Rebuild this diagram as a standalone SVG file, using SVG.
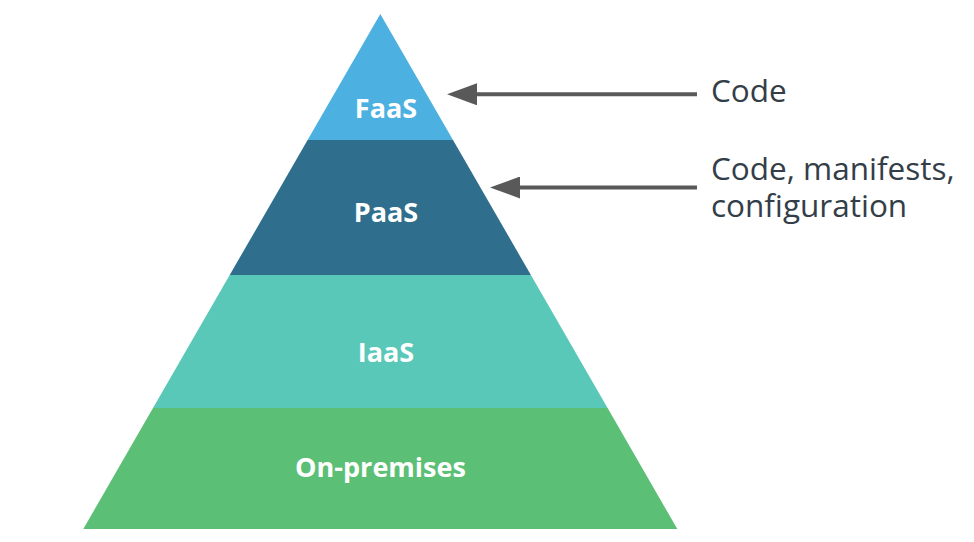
<svg xmlns="http://www.w3.org/2000/svg" width="974" height="542" viewBox="0 0 974 542">
<style>
.lbl{font-family:"Open Sans","Liberation Sans",sans-serif;font-weight:bold;font-size:27px;fill:#ffffff;text-anchor:middle}
.note{font-family:"Open Sans","Liberation Sans",sans-serif;font-size:31.5px;fill:#333e48}
.arr{stroke:#595959;stroke-width:4;fill:none}
</style>
<defs>
<marker id="ah" viewBox="0 0 30 22" refX="0" refY="11" markerWidth="30" markerHeight="22" markerUnits="userSpaceOnUse" orient="auto">
<path d="M0,0 L30,11 L0,22 Z" fill="#595959"/>
</marker>
</defs>
<rect width="974" height="542" fill="#ffffff"/>
<g id="faas">
<polygon points="380.3,14 453,140 307.6,140" fill="#4cb0e0"/>
<text class="lbl" x="386" y="118">FaaS</text>
</g>
<g id="paas">
<polygon points="307.6,140 453,140 530.9,275 229.7,275" fill="#2f6f8d"/>
<text class="lbl" x="386" y="222">PaaS</text>
</g>
<g id="iaas">
<polygon points="229.7,275 530.9,275 607.6,408 153,408" fill="#5ac8b8"/>
<text class="lbl" x="386" y="362">IaaS</text>
</g>
<g id="onprem">
<polygon points="153,408 607.6,408 677.3,529 83.3,529" fill="#5cbf76"/>
<text class="lbl" x="380.5" y="477">On-premises</text>
</g>
<g id="connectors">
<line class="arr" x1="697" y1="94.3" x2="477" y2="94.3" marker-end="url(#ah)"/>
<line class="arr" x1="697" y1="187.5" x2="520" y2="187.5" marker-end="url(#ah)"/>
</g>
<g id="notes">
<text class="note" x="711" y="101.7">Code</text>
<text class="note" x="711" y="180">Code, manifests,</text>
<text class="note" x="711" y="217">configuration</text>
</g>
</svg>
